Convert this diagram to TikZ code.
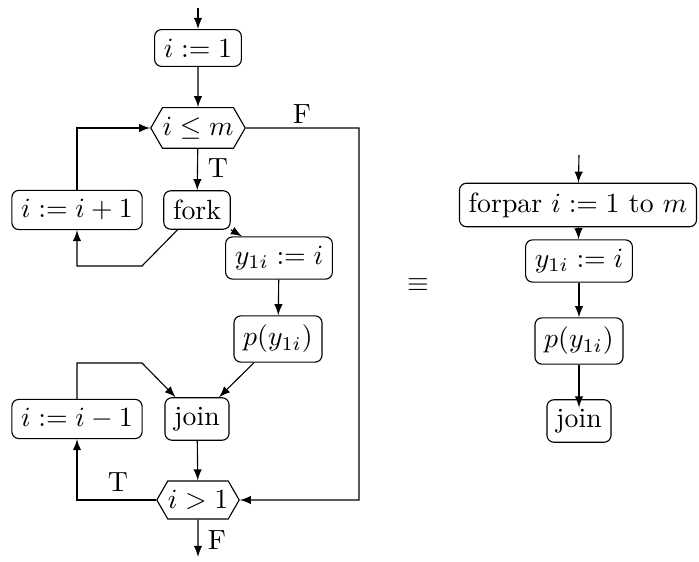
\documentclass[tikz,border=0pt]{standalone}
\usetikzlibrary{shapes.symbols}
\begin{document}
\begin{tikzpicture}[>=latex, x=0.36pt, y=-0.36pt,
    box/.style={draw, rounded corners=2.5pt},
    cond/.style={draw, shape=signal, signal to=west and east, signal pointer angle=120, inner xsep=0pt},
    lab/.style={inner sep=0pt}]
    \useasboundingbox (0,0) rectangle (699,562);
    % fork/join loops
    \coordinate (in) at (198,8);
    \node[box] (init) at (198,48) {$i := 1$};
    \node[cond] (le) at (198,128) {$i \le m$};
    \node[box] (inc) at (77,210) {$i := i+1$};
    \node[box] (fork) at (197,210) {fork};
    \node[box] (ya) at (279,258) {$y_{1i} := i$};
    \node[box] (pa) at (278,339) {$p(y_{1i})$};
    \node[box] (dec) at (77,419) {$i := i-1$};
    \node[box] (joina) at (197,419) {join};
    \node[cond] (gt) at (198,500) {$i > 1$};
    \coordinate (out) at (198,557);
    \coordinate (fr) at (359,128);
    \coordinate (fl) at (142,266);
    \coordinate (dl) at (142,363);
    \node[lab] (f1) at (302,114) {F};
    \node[lab] (t1) at (218,168) {T};
    \node[lab] (t2) at (118,482) {T};
    \node[lab] (f2) at (217,540) {F};
    \foreach \a/\b in {in/init, init/le, le/fork, fork/ya, ya/pa, pa/joina, joina/gt, gt/out} \draw[->] (\a) -- (\b);
    \draw[->] (fork) -- (fl) -| (inc);
    \draw[->] (inc) |- (le);
    \draw[->] (le) -- (fr) |- (gt);
    \draw[->] (gt) -| (dec);
    \draw[->] (dec) |- (dl) -- (joina);
    % equivalence
    \node (eq) at (418,285) {$\equiv$};
    % forpar
    \coordinate (inb) at (579,155);
    \node[box] (forpar) at (578,205) {forpar $i := 1$ to $m$};
    \node[box] (yb) at (579,261) {$y_{1i} := i$};
    \node[box] (pb) at (579,341) {$p(y_{1i})$};
    \node[box] (joinb) at (579,421) {join};
    \foreach \a/\b in {inb/forpar, forpar/yb, yb/pb} \draw[->] (\a) -- (\b);
    \draw[->] (pb) -- ([yshift=-3pt]joinb.north);
\end{tikzpicture}
\end{document}
